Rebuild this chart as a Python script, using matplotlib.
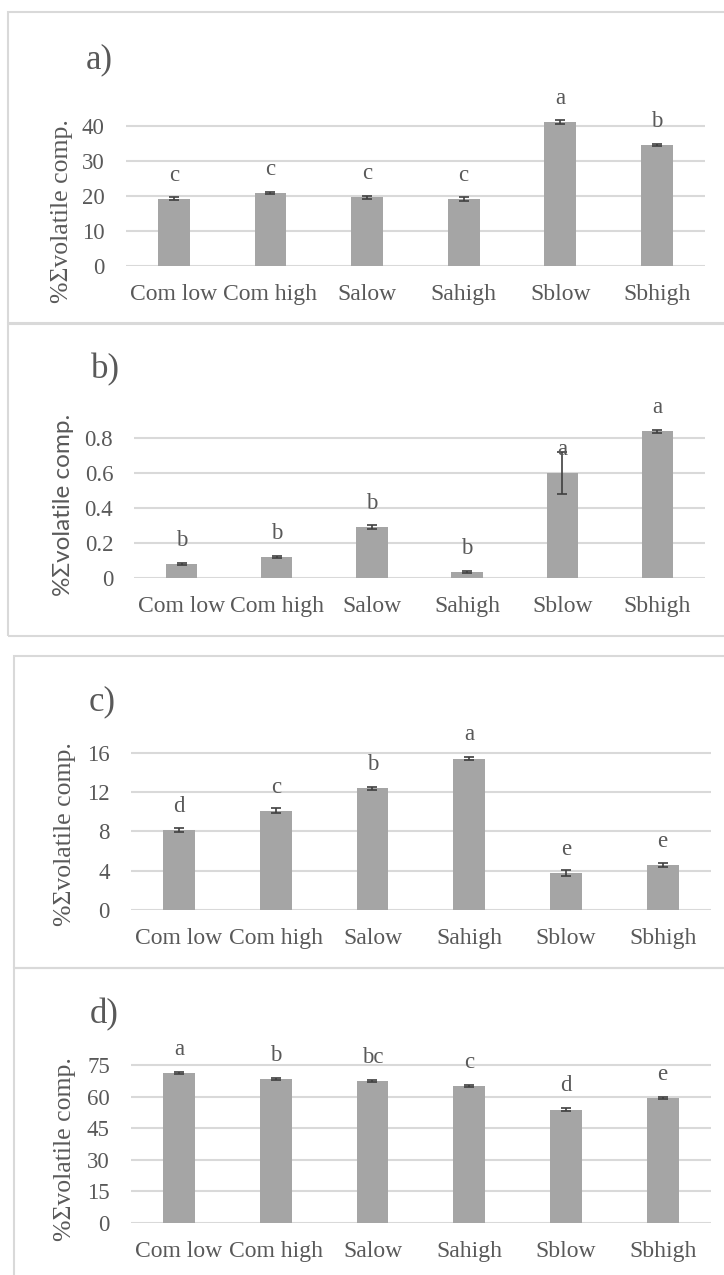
import matplotlib
matplotlib.use("Agg")
import matplotlib.pyplot as plt
from matplotlib.patches import Rectangle
import numpy as np

# treatments on the x axis
groups = ["Com low", "Com high", "Salow", "Sahigh", "Sblow", "Sbhigh"]

# a)
vals_a = [19.2, 20.7, 19.6, 19.0, 41.2, 34.6]
err_a = [0.4, 0.3, 0.5, 0.6, 0.6, 0.3]
let_a = ["c", "c", "c", "c", "a", "b"]
ticks_a = [0, 10, 20, 30, 40]

# b)
vals_b = [0.078, 0.116, 0.291, 0.033, 0.597, 0.837]
err_b = [0.008, 0.006, 0.01, 0.008, 0.12, 0.008]
let_b = ["b", "b", "b", "b", "a", "a"]
ticks_b = [0, 0.2, 0.4, 0.6, 0.8]
ticklab_b = ["0", "0.2", "0.4", "0.6", "0.8"]

# c)
vals_c = [8.17, 10.1, 12.4, 15.4, 3.73, 4.54]
err_c = [0.2, 0.25, 0.15, 0.15, 0.3, 0.2]
let_c = ["d", "c", "b", "a", "e", "e"]
ticks_c = [0, 4, 8, 12, 16]

# d)
vals_d = [71.0, 68.2, 67.5, 65.0, 53.8, 59.3]
err_d = [0.5, 0.4, 0.5, 0.6, 0.6, 0.5]
let_d = ["a", "b", "bc", "c", "d", "e"]
ticks_d = [0, 15, 30, 45, 60, 75]

ylab = "%\u03a3volatile comp."

W, H = 724, 1275
bar_col = "#A5A5A5"
grid_col = "#D9D9D9"
txt_col = "#595959"
err_col = "#404040"
serif = ["Liberation Serif", "DejaVu Serif"]
sans = ["Lato", "DejaVu Sans"]

fig = plt.figure(figsize=(W / 100, H / 100), dpi=100)


def px_axes(x0, x1, ytop, ybot):
    return fig.add_axes([x0 / W, 1 - ybot / H, (x1 - x0) / W, (ybot - ytop) / H])


def border(x0, y0, y1):
    fig.patches.append(Rectangle((x0 / W, 1 - y1 / H), (W + 20 - x0) / W, (y1 - y0) / H,
                                 transform=fig.transFigure, fill=False,
                                 edgecolor=grid_col, lw=1.5, clip_on=False))


# panel frames
border(8, 12, 323)
border(8, 324, 636)
border(14, 656, 968)
border(14, 968, 1300)

panels = [
    # vals, errs, letters, ticks, ticklabels, ymax, axes px box, tag, tag pos, ylabel font, ylabel pos
    (vals_a, err_a, let_a, ticks_a, None, 45, (125.6, 705, 108.6, 265.7), "a)", (99, 60), serif, 18.5, (62, 211)),
    (vals_b, err_b, let_b, ticks_b, ticklab_b, 0.9, (134, 705, 420.2, 577.7), "b)", (105, 370), sans, 17.5, (64, 505)),
    (vals_c, err_c, let_c, ticks_c, None, 18, (130.7, 711, 733, 910), "c)", (102, 702), serif, 18.5, (64.5, 834)),
    (vals_d, err_d, let_d, ticks_d, None, 80, (130.7, 711, 1054.5, 1222.7), "d)", (104, 1015), serif, 18.5, (64.5, 1149)),
]

x = np.arange(len(groups))

for vals, errs, lets, ticks, tlabs, ymax, box, tag, tagpos, yfont, yfs, ypos in panels:
    ax = px_axes(*box)
    ax.bar(x, vals, width=0.33, color=bar_col, zorder=2)
    ax.errorbar(x, vals, yerr=errs, fmt="none", ecolor=err_col, elinewidth=1.2,
                capsize=3.5, capthick=1.2, zorder=3)
    for xi, v, l in zip(x, vals, lets):
        ax.annotate(l, (xi, v), xytext=(0, 17), textcoords="offset points",
                    ha="center", va="center", fontsize=16.5, family=serif,
                    color=txt_col, annotation_clip=False)
    ax.set_xlim(-0.5, len(groups) - 0.5)
    ax.set_ylim(0, ymax)
    ax.set_yticks(ticks)
    if tlabs is not None:
        ax.set_yticklabels(tlabs)
    ax.set_xticks(x)
    ax.set_xticklabels(groups)
    ax.grid(axis="y", color=grid_col, lw=1.5, zorder=0)
    for s in ax.spines.values():
        s.set_visible(False)
    ax.tick_params(length=0, labelcolor=txt_col)
    ax.tick_params(axis="x", pad=13, labelsize=17)
    ax.tick_params(axis="y", pad=15, labelsize=16.5)
    for lab in ax.get_xticklabels() + ax.get_yticklabels():
        lab.set_family(serif)
    ax.set_facecolor("none")
    fig.text(ypos[0] / W, 1 - ypos[1] / H, ylab, rotation=90, fontsize=yfs,
             family=yfont, color=txt_col, ha="center", va="center")
    fig.text(tagpos[0] / W, 1 - tagpos[1] / H, tag, fontsize=25, family=serif,
             color=txt_col, ha="center", va="center")

fig.savefig("out.png", dpi=100, facecolor="white")
